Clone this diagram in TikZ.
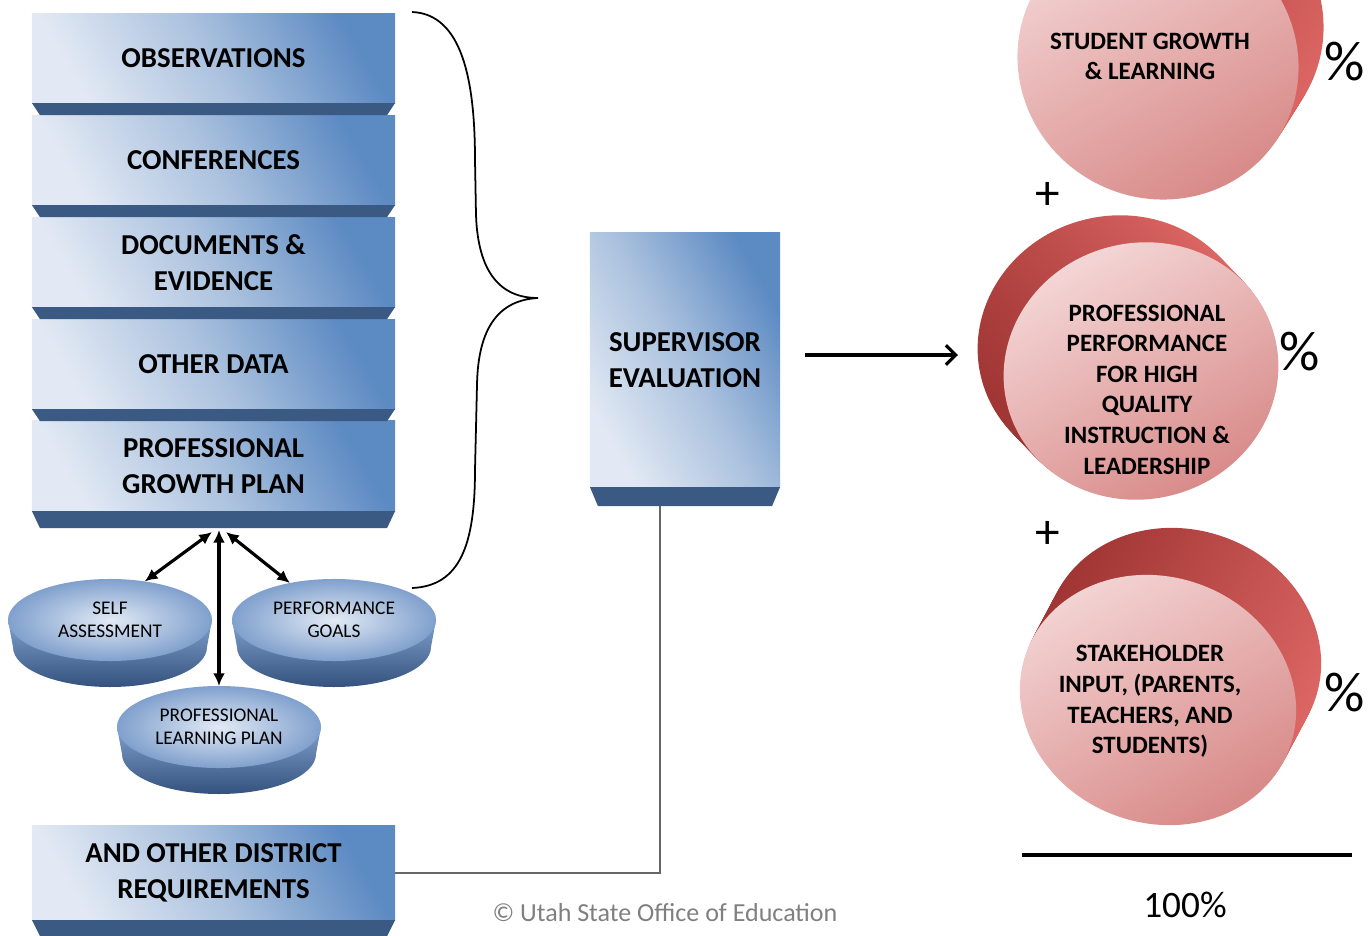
\documentclass[tikz,border=0pt]{standalone}
\usepackage{fontspec}
\setmainfont{Carlito}
\usetikzlibrary{arrows.meta,calc,shapes.geometric}

\definecolor{boxlight}{RGB}{226,233,244}
\definecolor{boxmid}{RGB}{170,193,222}
\definecolor{boxdark}{RGB}{92,138,195}
\definecolor{footblue}{RGB}{58,90,132}
\definecolor{disclight}{RGB}{226,234,245}
\definecolor{discmid}{RGB}{128,160,205}
\definecolor{discdark}{RGB}{52,82,125}
\definecolor{facelight}{RGB}{244,214,214}
\definecolor{facedark}{RGB}{214,134,132}
\definecolor{sidelight}{RGB}{222,104,102}
\definecolor{sidedark}{RGB}{158,52,50}
\definecolor{notegray}{RGB}{128,128,128}

% dark strip under a box face
\newcommand{\boxfoot}[2]{%
  \fill[footblue] (#1.south west) -- (#1.south east)
    -- ($(#1.south east)+(-8,#2)$) -- ($(#1.south west)+(8,#2)$) -- cycle;}

% blue disc: rim first, face as a node on top
\newcommand{\bluedisc}[3]{%
  \shade[top color=discmid, bottom color=discdark]
    (#2) ++(-102,0) -- ++(5,27)
    arc[start angle=180, end angle=0, x radius=97, y radius=40]
    -- ++(5,-27) -- cycle;
  \node[discface] (#1) at (#2) {#3};}

% red disc: rim swept along an offset, then the face
\newcommand{\reddisc}[6]{%
  \foreach \s in {20,19,...,1}
    \shade[left color=sidedark, right color=sidelight, shading angle=#6,
      shift={($(#1)+{\s/20}*(#5)$)}, rotate=#4]
      (0,0) ellipse [x radius=#2, y radius=#3];
  \shade[top color=facelight, bottom color=facedark, shading angle=30,
    shift={(#1)}, rotate=#4] (0,0) ellipse [x radius=#2, y radius=#3];}

\begin{document}
\begin{tikzpicture}[x=0.01cm, y=-0.01cm,
    every node/.style={align=center, inner sep=0pt, outer sep=0pt},
    facebox/.style={rectangle, minimum width=3.63cm, minimum height=0.89cm,
      top color=boxdark, bottom color=boxlight, middle color=boxmid,
      shading angle=-60, font=\fontsize{8.2}{10.2}\selectfont\bfseries},
    discface/.style={ellipse, minimum width=2.04cm, minimum height=0.82cm,
      inner color=disclight, outer color=discmid,
      font=\fontsize{5.5}{6.5}\selectfont},
    disctext/.style={font=\fontsize{7.1}{8.7}\selectfont\bfseries},
    pct/.style={font=\fontsize{16}{16}\selectfont},
    plus/.style={font=\fontsize{14}{14}\selectfont},
    twoway/.style={{Latex[length=3.6pt,width=3.4pt]}-{Latex[length=3.6pt,width=3.4pt]},
      line width=0.9pt},
    mainarrow/.style={-{Straight Barb[length=2.8pt,width=5.5pt]}, line width=0.9pt},
    plainline/.style={draw=black!60, line width=0.5pt},
    braceline/.style={line width=0.5pt}]

  \useasboundingbox (0,0) rectangle (1372,936);

  % left stack
  \node[facebox] (obs) at (213.5,58.5) {OBSERVATIONS};
  \node[facebox] (conf) at (213.5,160.5) {CONFERENCES};
  \node[facebox] (docs) at (213.5,262.5) {DOCUMENTS \&\\EVIDENCE};
  \node[facebox] (other) at (213.5,364.5) {OTHER DATA};
  \node[facebox, minimum height=0.9cm] (pgp) at (213.5,466) {PROFESSIONAL\\GROWTH PLAN};
  \boxfoot{obs}{12}
  \boxfoot{conf}{12}
  \boxfoot{docs}{12}
  \boxfoot{other}{12}
  \boxfoot{pgp}{17}

  \node[facebox, minimum height=0.94cm] (dist) at (213.5,873) {AND OTHER DISTRICT\\REQUIREMENTS};
  \boxfoot{dist}{16}

  \node[facebox, minimum width=1.9cm, minimum height=2.54cm] (sup) at (685,360) {SUPERVISOR\\EVALUATION};
  \boxfoot{sup}{19}

  % brace
  \draw[braceline] (412,12) .. controls (462,14) and (475,80) .. (475,160)
    -- (476,215) .. controls (478,272) and (500,298) .. (538,298)
    .. controls (500,300) and (478,326) .. (477,385)
    -- (475,470) .. controls (475,545) and (460,586) .. (412,588);

  % growth plan discs
  \bluedisc{self}{110,620}{SELF\\ASSESSMENT}
  \bluedisc{goals}{334,620}{PERFORMANCE\\GOALS}
  \bluedisc{plp}{219,727}{PROFESSIONAL\\LEARNING PLAN}

  \coordinate (foot-l) at (212,532);
  \coordinate (foot-m) at (219,530);
  \coordinate (foot-r) at (226,532);
  \draw[twoway] (foot-l) -- (self.48);
  \draw[twoway] (foot-m) -- (plp.north);
  \draw[twoway] (foot-r) -- (goals.140);

  % links to the supervisor box
  \coordinate (sup-foot) at (660,506);
  \draw[plainline] (dist.east) -| (sup-foot);
  \coordinate (perf-in) at (958,355);
  \draw[mainarrow, shorten <=0.25cm] (sup.east |- perf-in) -- (perf-in);

  % weighted parts
  \reddisc{1158,62}{142}{136}{-30}{25,-40}{60}
  \node[disctext] (sgl) at (1150,56.5) {STUDENT GROWTH\\\& LEARNING};
  \reddisc{1141,371}{138}{128}{15}{-26,-27}{120}
  \node[disctext] (ppf) at (1147,389.5) {PROFESSIONAL\\PERFORMANCE\\FOR HIGH\\QUALITY\\INSTRUCTION \&\\LEADERSHIP};
  \reddisc{1158,700}{140}{123}{-20}{25,-47}{60}
  \node[disctext] (shi) at (1150,701.5) {STAKEHOLDER\\INPUT, (PARENTS,\\TEACHERS, AND\\STUDENTS)};

  \node[pct] (pct-sgl) at (1345,62) {\%};
  \node[pct] (pct-ppf) at (1300,352) {\%};
  \node[pct] (pct-shi) at (1345,693) {\%};
  \node[plus] (plus-a) at (1048,196) {+};
  \node[plus] (plus-b) at (1048,535) {+};

  \coordinate (sum-l) at (1022,855);
  \coordinate (sum-r) at (1352,855);
  \draw[line width=1.4pt] (sum-l) -- (sum-r);
  \node[font=\fontsize{10.6}{12}\selectfont] (total) at (1185,905) {100\%};

  \node[font=\fontsize{7.4}{9}\selectfont, text=notegray] (credit) at (665,913) {© Utah State Office of Education};
\end{tikzpicture}
\end{document}
